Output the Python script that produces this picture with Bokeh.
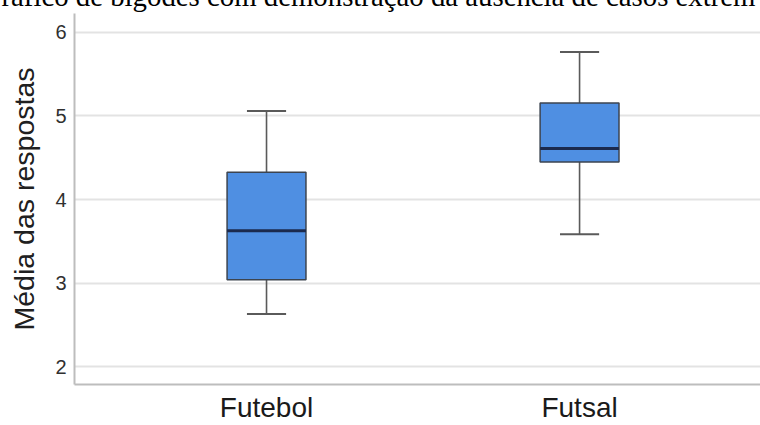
from bokeh.plotting import figure
from bokeh.models import FixedTicker, ColumnDataSource, Range1d, Title
from bokeh.embed import file_html
from bokeh.resources import INLINE

# ---- data ----
categories = ["Futebol", "Futsal"]
lower_whisker = [2.63, 3.585]
q1 = [3.04, 4.45]
median = [3.627, 4.61]
q3 = [4.325, 5.156]
upper_whisker = [5.06, 5.765]
y_ticks = [2, 3, 4, 5, 6]
title_text = "ráfico de bigodes com demonstração da ausência de casos extrem"

xs = [i + 1 for i in range(len(categories))]
box_w = 0.252
cap_w = 0.125

src = ColumnDataSource(dict(
    x=xs, q1=q1, q3=q3, med=median, lo=lower_whisker, hi=upper_whisker,
    bl=[x - box_w / 2 for x in xs], br=[x + box_w / 2 for x in xs],
    cl=[x - cap_w / 2 for x in xs], cr=[x + cap_w / 2 for x in xs],
))

HIDDEN = 40  # canvas rows hidden above the window (the title is cut off there)

p = figure(width=760, height=425 + HIDDEN, output_backend="svg", toolbar_location=None,
           tools="",
           x_range=Range1d(0.3866, 2.578), y_range=Range1d(1.785, 6.227),
           min_border_left=74, min_border_right=0, min_border_top=13 + HIDDEN,
           min_border_bottom=40)
p.styles = {"margin-top": f"-{HIDDEN}px"}
p.outline_line_color = None
p.background_fill_color = "white"
p.border_fill_color = "white"

# title, partly above the visible window as in the reference
p.add_layout(Title(text=title_text, text_font="Liberation Serif", text_font_size="28.8px",
                   text_font_style="normal", text_color="black", align="left",
                   vertical_align="bottom", standoff=3, offset=-73), "above")

# grid
p.xgrid.visible = False
p.ygrid.ticker = FixedTicker(ticks=y_ticks)
p.ygrid.grid_line_color = "#e3e3e3"
p.ygrid.grid_line_width = 2

# y axis
ya = p.yaxis[0]
ya.ticker = FixedTicker(ticks=y_ticks)
ya.axis_label = "Média das respostas"
ya.axis_label_text_font = "Liberation Sans"
ya.axis_label_text_font_size = "28.5px"
ya.axis_label_text_font_style = "normal"
ya.axis_label_text_color = "#202020"
ya.axis_label_standoff = 12
ya.major_label_text_font = "Liberation Sans"
ya.major_label_text_font_size = "20px"
ya.major_label_text_color = "#303030"
ya.major_label_standoff = 2
ya.major_tick_line_color = None
ya.minor_tick_line_color = None
ya.axis_line_color = "#bdbdbd"
ya.axis_line_width = 2

# x axis
xa = p.xaxis[0]
xa.ticker = FixedTicker(ticks=xs)
xa.major_label_overrides = {x: c for x, c in zip(xs, categories)}
xa.major_label_text_font = "Liberation Sans"
xa.major_label_text_font_size = "28px"
xa.major_label_text_color = "#1a1a1a"
xa.major_label_standoff = 1
xa.major_tick_line_color = None
xa.minor_tick_line_color = None
xa.axis_line_color = "#bdbdbd"
xa.axis_line_width = 2

# whiskers
p.segment(x0="x", y0="q3", x1="x", y1="hi", source=src, line_color="#5a5a5a", line_width=1.6)
p.segment(x0="x", y0="lo", x1="x", y1="q1", source=src, line_color="#5a5a5a", line_width=1.6)
p.segment(x0="cl", y0="hi", x1="cr", y1="hi", source=src, line_color="#5a5a5a", line_width=2)
p.segment(x0="cl", y0="lo", x1="cr", y1="lo", source=src, line_color="#5a5a5a", line_width=2)

# boxes
p.vbar(x="x", width=box_w, bottom="q1", top="q3", source=src,
       fill_color="#4f8fe2", line_color="#3c4450", line_width=1.5)
# medians
p.segment(x0="bl", y0="med", x1="br", y1="med", source=src, line_color="#1b2a4e", line_width=3)

open("out.html", "w").write(file_html(p, INLINE))
